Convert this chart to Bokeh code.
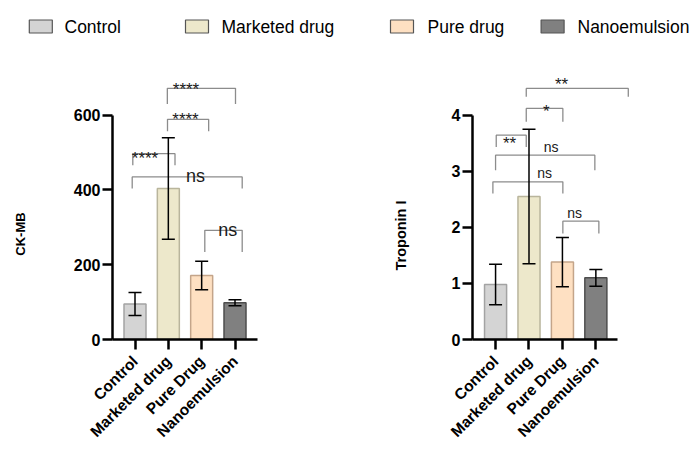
import math
from bokeh.plotting import figure
from bokeh.models import Range1d, FixedTicker, Whisker, TeeHead, ColumnDataSource
from bokeh.layouts import column, row
from bokeh.embed import file_html
from bokeh.resources import INLINE
from bokeh.core.properties import value

FONT = "Liberation Sans"

# ---------------- data ----------------
groups = ["Control", "Marketed drug", "Pure Drug", "Nanoemulsion"]
legend_names = ["Control", "Marketed drug", "Pure drug", "Nanoemulsion"]
ckmb_mean = [95, 404, 171, 98]
ckmb_err = [31, 136, 38, 8]
trop_mean = [0.98, 2.55, 1.38, 1.10]
trop_err = [0.36, 1.20, 0.44, 0.15]
ckmb_ticks = [0, 200, 400, 600]
trop_ticks = [0, 1, 2, 3, 4]

ckmb_pairs = [("Marketed drug", "Nanoemulsion"), ("Marketed drug", "Pure Drug"),
              ("Control", "Marketed drug"), ("Control", "Nanoemulsion"),
              ("Pure Drug", "Nanoemulsion")]
ckmb_sig = ["****", "****", "****", "ns", "ns"]
trop_pairs = [("Marketed drug", "Nanoemulsion"), ("Marketed drug", "Pure Drug"),
              ("Control", "Marketed drug"), ("Control", "Nanoemulsion"),
              ("Control", "Pure Drug"), ("Pure Drug", "Nanoemulsion")]
trop_sig = ["**", "*", "**", "ns", "ns", "ns"]

# ---------------- styling / annotation layout ----------------
fills = ["#d4d4d4", "#ede8cb", "#fee0c2", "#808080"]
edges = ["#a3a3a3", "#b9b59c", "#c4a58a", "#4d4d4d"]

ckmb_layout = dict(
    line=[672, 589, 497, 435, 292], leg=[630, 557, 466, 404, 234],
    dx0=[-0.03, -0.025, -0.066, -0.084, 0.094], dx1=[0.015, 0.21, 0.2, 0.216, 0.216],
    dlx=[-0.47, 0.015, -0.2, 0.315, 0.28], ly=[670, 588, 485, 437, 292.5],
    star_size="17px", ns_size="18px")
trop_layout = dict(
    line=[4.477, 4.12, 3.644, 3.287, 2.811, 2.11], leg=[4.327, 3.881, 3.435, 3.02, 2.604, 1.89],
    dx0=[-0.082, -0.082, 0.02, 0.0, -0.08, 0.013], dx1=[0.97, 0.013, -0.082, -0.03, 0.013, 0.09],
    dlx=[-0.026, 0.017, -0.08, 0.16, 0.466, -0.137], ly=[4.541, 4.065, 3.50, 3.435, 2.966, 2.253],
    star_size="17px", ns_size="14px")

H = 405
BT, BB = 10, 111          # top / bottom borders -> frame spans page y 55..339
FRAME_H = H - BT - BB
xs = [i + 0.5 for i in range(len(groups))]
pos = {g: x for g, x in zip(groups, xs)}


def make_chart(means, errs, ticks, ymax, pairs, sig, lay, width, bl, br, xr, xbounds):
    p = figure(width=width, height=H, x_range=Range1d(*xr), y_range=Range1d(0, ymax),
               output_backend="svg", toolbar_location=None, title=None,
               min_border_left=bl, min_border_right=br, min_border_top=BT, min_border_bottom=BB)
    p.outline_line_color = None
    p.xgrid.visible = False
    p.ygrid.visible = False
    p.background_fill_color = "white"
    p.border_fill_color = "white"

    src = ColumnDataSource(dict(x=xs, top=means, fill=fills, edge=edges,
                                upper=[m + e for m, e in zip(means, errs)],
                                lower=[m - e for m, e in zip(means, errs)]))
    p.vbar(x="x", top="top", width=0.66, bottom=0, fill_color="fill", line_color="edge",
           line_width=1.5, source=src)
    p.add_layout(Whisker(base="x", upper="upper", lower="lower", source=src, level="overlay",
                         line_color="black", line_width=1.5,
                         upper_head=TeeHead(size=13, line_width=1.5, line_color="black"),
                         lower_head=TeeHead(size=13, line_width=1.5, line_color="black")))

    # significance brackets
    bx, by, tx, ty, tt, ts = [], [], [], [], [], []
    for i, (a, b) in enumerate(pairs):
        x0 = pos[a] + lay["dx0"][i]
        x1 = pos[b] + lay["dx1"][i]
        bx.append([x0, x0, x1, x1])
        by.append([lay["leg"][i], lay["line"][i], lay["line"][i], lay["leg"][i]])
        tx.append((pos[a] + pos[b]) / 2 + lay["dlx"][i])
        ty.append(lay["ly"][i])
        tt.append(sig[i])
        ts.append(lay["ns_size"] if sig[i] == "ns" else lay["star_size"])
    p.multi_line(xs=bx, ys=by, line_color="#8c8c8c", line_width=1.3)
    p.text(x=tx, y=ty, text=tt, text_font_size=ts, text_font=value(FONT),
           text_align="center", text_baseline="alphabetic", text_color="#1a1a1a")

    # y axis
    ya = p.yaxis[0]
    ya.ticker = FixedTicker(ticks=ticks)
    ya.bounds = (ticks[0], ticks[-1])
    ya.axis_line_width = 2.5
    ya.axis_line_color = "black"
    ya.major_tick_line_width = 2.5
    ya.major_tick_out = 10
    ya.major_tick_in = 0
    ya.minor_tick_line_color = None
    ya.major_label_text_font = FONT
    ya.major_label_text_font_size = "16px"
    ya.major_label_text_font_style = "bold"
    ya.major_label_text_color = "black"
    ya.major_label_standoff = 2

    # x axis
    xa = p.xaxis[0]
    xa.ticker = FixedTicker(ticks=xs)
    xa.major_label_overrides = {x: g for x, g in zip(xs, groups)}
    if xbounds is not None:
        xa.bounds = xbounds
    xa.axis_line_width = 2.5
    xa.axis_line_color = "black"
    xa.major_tick_line_width = 2.5
    xa.major_tick_out = 10
    xa.major_tick_in = 0
    xa.minor_tick_line_color = None
    xa.major_label_orientation = math.pi / 4
    xa.major_label_standoff = 9
    xa.major_label_text_font = FONT
    xa.major_label_text_font_size = "15.5px"
    xa.major_label_text_font_style = "bold"
    xa.major_label_text_color = "black"
    return p


def make_label(text, w, cx, page_y_center, size):
    # vertical axis title in its own strip; frame aligned with the charts' frame (55..339)
    f = figure(width=w, height=H, x_range=Range1d(0, w), y_range=Range1d(0, FRAME_H),
               x_axis_type=None, y_axis_type=None, toolbar_location=None,
               output_backend="svg", title=None,
               min_border_left=0, min_border_right=0, min_border_top=BT, min_border_bottom=BB)
    f.outline_line_color = None
    frame_bottom = H + 45 - BB
    f.text(x=[cx], y=[frame_bottom - page_y_center], text=[text], angle=math.pi / 2,
           text_align="center", text_baseline="middle", text_font=value(FONT),
           text_font_size=value(size), text_font_style="bold", text_color="black")
    return f


ymax1 = 600 * FRAME_H / 224.3
ymax2 = 4 * FRAME_H / 224.3

p1 = make_chart(ckmb_mean, ckmb_err, ckmb_ticks, ymax1, ckmb_pairs, ckmb_sig, ckmb_layout,
                300, 72, 83, (-0.175, 4.175), None)
p2 = make_chart(trop_mean, trop_err, trop_ticks, ymax2, trop_pairs, trop_sig, trop_layout,
                281, 62, 59, (-0.19, -0.19 + 160 / 33.43), (-0.19, 4.15))

lab1 = make_label("CK-MB", 40, 20, 233.5, "13px")
lab2 = make_label("Troponin I", 70, 60, 235, "14.5px")

# legend
LW, LH = 691, 45
leg = figure(width=LW, height=LH, x_range=Range1d(0, LW), y_range=Range1d(0, LH),
             x_axis_type=None, y_axis_type=None, toolbar_location=None,
             output_backend="svg", title=None, min_border=0)
leg.outline_line_color = None
sw_x = [40.3, 196.5, 401.5, 552.1]
tx_x = [64, 221, 427, 577]
leg.rect(x=sw_x, y=[19] * 4, width=23, height=13, fill_color=fills, line_color="#555555",
         line_width=1.2)
leg.text(x=tx_x, y=[19] * 4, text=legend_names, text_font=value(FONT),
         text_font_size=value("17.5px"), text_align="left", text_baseline="middle",
         text_color="black")

layout = column(leg, row(lab1, p1, lab2, p2))
open("out.html", "w").write(file_html(layout, INLINE))
